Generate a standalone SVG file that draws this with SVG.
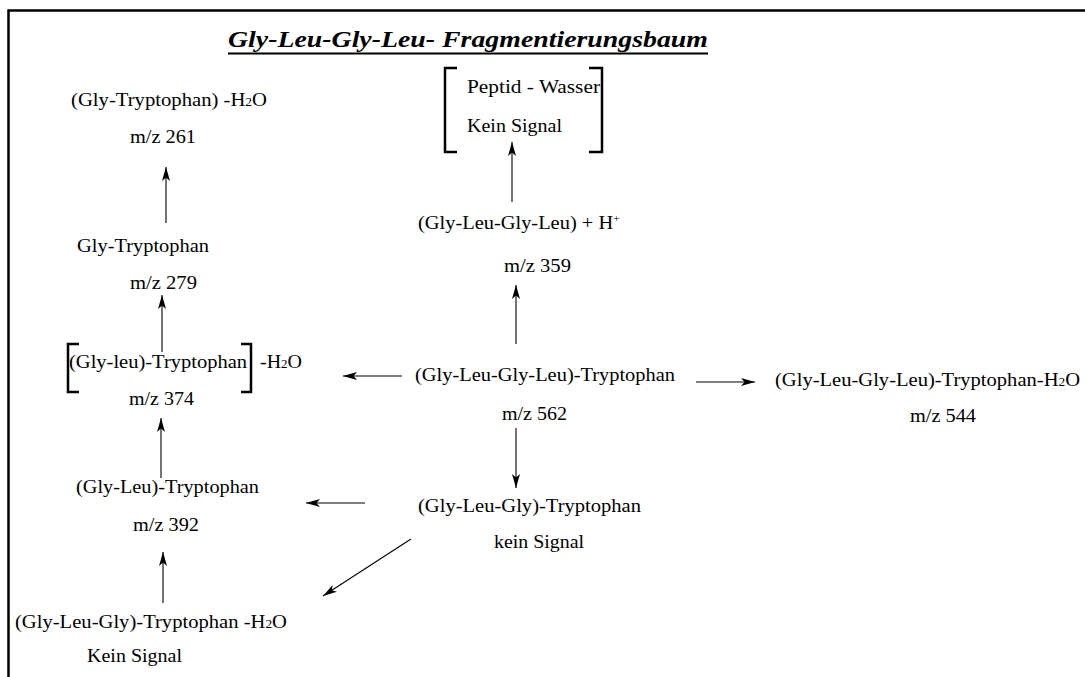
<svg xmlns="http://www.w3.org/2000/svg" width="1085" height="677" viewBox="0 0 1085 677">
<style>
text{font-family:"Liberation Serif","Times New Roman",serif;font-size:18.5px;fill:#000}
.title{font-size:24px;font-weight:bold;font-style:italic}
.sm{font-size:12px}
.sup{font-size:11px}
.br{fill:none;stroke:#000;stroke-width:2.5}
.ar{stroke:#000;stroke-width:1.1;fill:none;marker-end:url(#ah)}
</style>
<defs>
<marker id="ah" markerUnits="userSpaceOnUse" markerWidth="15" markerHeight="9" refX="14" refY="4" orient="auto">
<path d="M0,0 L14,4 L0,8 L3.5,4 z" fill="#000"/>
</marker>
</defs>
<rect width="1085" height="677" fill="#fff"/>
<g id="frame"><path d="M8.5,677 V10.5 H1085" fill="none" stroke="#000" stroke-width="2.5"/></g>
<g id="title">
<text class="title" x="228" y="47" textLength="480" lengthAdjust="spacingAndGlyphs">Gly-Leu-Gly-Leu- Fragmentierungsbaum</text>
<line x1="228" y1="53.5" x2="708" y2="53.5" stroke="#000" stroke-width="2.2"/>
</g>
<g id="connectors">
<line class="ar" x1="166" y1="223" x2="166" y2="167"/>
<line class="ar" x1="162" y1="352" x2="162" y2="295"/>
<line class="ar" x1="161" y1="478" x2="161" y2="418"/>
<line class="ar" x1="163" y1="603" x2="163" y2="552"/>
<line class="ar" x1="365" y1="503" x2="306" y2="503"/>
<line class="ar" x1="411" y1="539" x2="323" y2="596"/>
<line class="ar" x1="402" y1="376" x2="343" y2="376"/>
<line class="ar" x1="696" y1="382" x2="755" y2="382"/>
<line class="ar" x1="516" y1="344" x2="516" y2="285"/>
<line class="ar" x1="512" y1="202" x2="512" y2="142"/>
<line class="ar" x1="516" y1="428" x2="516" y2="488"/>
</g>
<g id="n-gly-trp-h2o">
<text x="71" y="106" textLength="196" lengthAdjust="spacingAndGlyphs">(Gly-Tryptophan) -H<tspan class="sm">2</tspan>O</text>
<text x="130" y="143" textLength="66" lengthAdjust="spacingAndGlyphs">m/z 261</text>
</g>
<g id="n-gly-trp">
<text x="77" y="252" textLength="132" lengthAdjust="spacingAndGlyphs">Gly-Tryptophan</text>
<text x="130" y="289" textLength="67" lengthAdjust="spacingAndGlyphs">m/z 279</text>
</g>
<g id="n-glyleu-trp-h2o">
<path class="br" d="M79,344 H68 V392 H79"/>
<path class="br" d="M241,344 H251 V392 H241"/>
<text x="69" y="368" textLength="178" lengthAdjust="spacingAndGlyphs">(Gly-leu)-Tryptophan</text>
<text x="260" y="368" textLength="42" lengthAdjust="spacingAndGlyphs">-H<tspan class="sm">2</tspan>O</text>
<text x="129" y="405" textLength="65" lengthAdjust="spacingAndGlyphs">m/z 374</text>
</g>
<g id="n-glyleu-trp">
<text x="76" y="493" textLength="183" lengthAdjust="spacingAndGlyphs">(Gly-Leu)-Tryptophan</text>
<text x="133" y="531" textLength="66" lengthAdjust="spacingAndGlyphs">m/z 392</text>
</g>
<g id="n-glyleugly-trp-h2o">
<text x="15" y="628" textLength="272" lengthAdjust="spacingAndGlyphs">(Gly-Leu-Gly)-Tryptophan -H<tspan class="sm">2</tspan>O</text>
<text x="87" y="662" textLength="95" lengthAdjust="spacingAndGlyphs">Kein Signal</text>
</g>
<g id="n-peptid-wasser">
<path class="br" d="M457,68 H445 V152 H457"/>
<path class="br" d="M589,68 H602 V152 H589"/>
<text x="467" y="93" textLength="133" lengthAdjust="spacingAndGlyphs">Peptid - Wasser</text>
<text x="467" y="132" textLength="95" lengthAdjust="spacingAndGlyphs">Kein Signal</text>
</g>
<g id="n-peptide-h">
<text x="418" y="229" textLength="202" lengthAdjust="spacingAndGlyphs">(Gly-Leu-Gly-Leu) + H<tspan class="sup" dy="-7">+</tspan></text>
<text x="504" y="272" textLength="67" lengthAdjust="spacingAndGlyphs">m/z 359</text>
</g>
<g id="n-central">
<text x="415" y="381" textLength="260" lengthAdjust="spacingAndGlyphs">(Gly-Leu-Gly-Leu)-Tryptophan</text>
<text x="502" y="420" textLength="65" lengthAdjust="spacingAndGlyphs">m/z 562</text>
</g>
<g id="n-central-h2o">
<text x="775" y="386" textLength="305" lengthAdjust="spacingAndGlyphs">(Gly-Leu-Gly-Leu)-Tryptophan-H<tspan class="sm">2</tspan>O</text>
<text x="910" y="422" textLength="66" lengthAdjust="spacingAndGlyphs">m/z 544</text>
</g>
<g id="n-glyleugly-trp">
<text x="418" y="512" textLength="223" lengthAdjust="spacingAndGlyphs">(Gly-Leu-Gly)-Tryptophan</text>
<text x="494" y="548" textLength="90" lengthAdjust="spacingAndGlyphs">kein Signal</text>
</g>
</svg>
